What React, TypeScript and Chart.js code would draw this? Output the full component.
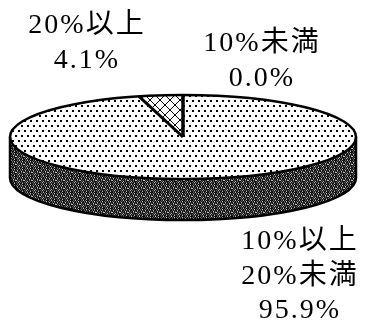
import React, { useEffect, useRef } from "react";
import { Chart, registerables } from "chart.js";

Chart.register(...registerables);

const categories = ["10%未満", "10%以上20%未満", "20%以上"];
const values = [0.0, 95.9, 4.1];
const labelLines = [["10%未満"], ["10%以上", "20%未満"], ["20%以上"]];

function makeTile(w: number, h: number, draw: (c: CanvasRenderingContext2D) => void) {
  const c = document.createElement("canvas");
  c.width = w;
  c.height = h;
  const g = c.getContext("2d")!;
  draw(g);
  return c;
}

function makePatterns() {
  const pc = document.createElement("canvas").getContext("2d")!;
  const dots = makeTile(6, 10, (g) => {
    g.fillStyle = "#fff";
    g.fillRect(0, 0, 6, 10);
    g.fillStyle = "#000";
    g.fillRect(0, 0, 2, 2);
    g.fillRect(3, 5, 2, 2);
  });
  const hatch = makeTile(10, 10, (g) => {
    g.fillStyle = "#fff";
    g.fillRect(0, 0, 10, 10);
    g.fillStyle = "#000";
    for (let i = 0; i < 10; i++) {
      g.fillRect(i, i, 1, 1);
      g.fillRect(i, 9 - i, 1, 1);
    }
  });
  const rows = [
    "#+#.#+##",
    "+#+#+#.#",
    "#.##+#+#",
    "#+#+#.#+",
    ".#+##+#.",
    "#+#.#+##",
    "+#.#+#+#",
    "#+#+##.#",
  ];
  const dark = makeTile(8, 8, (g) => {
    for (let r = 0; r < 8; r++)
      for (let k = 0; k < 8; k++) {
        const ch = rows[r][k];
        g.fillStyle = ch === "#" ? "#0c0c0c" : ch === "+" ? "#5e5e5e" : "#c4c4c4";
        g.fillRect(k, r, 1, 1);
      }
  });
  return {
    top: [pc.createPattern(dots, "repeat")!, pc.createPattern(dots, "repeat")!, pc.createPattern(hatch, "repeat")!],
    side: [pc.createPattern(dark, "repeat")!, pc.createPattern(dark, "repeat")!, pc.createPattern(dark, "repeat")!],
  };
}

// ellipse geometry of the 3D view
const VIEW = { cx: 183, cy: 137, rx: 173, ry: 42, depth: 41 };
const LABEL_POS = [
  { x: 261, y: 44 },
  { x: 299, y: 242 },
  { x: 86, y: 26 },
];
const LINE_H = 34.5;

export default function App() {
  const ref = useRef<HTMLCanvasElement>(null);
  useEffect(() => {
    const pats = makePatterns();
    const pie3d = {
      id: "pie3d",
      beforeDatasetsDraw(chart: any) {
        const ctx = chart.ctx as CanvasRenderingContext2D;
        const meta = chart.getDatasetMeta(0);
        const { cx, cy, rx, ry, depth } = VIEW;
        ctx.save();
        meta.data.forEach((arc: any, i: number) => {
          const lo = Math.max(arc.startAngle, 0);
          const hi = Math.min(arc.endAngle, Math.PI);
          if (hi <= lo) return;
          ctx.beginPath();
          ctx.ellipse(cx, cy, rx, ry, 0, lo, hi);
          ctx.ellipse(cx, cy + depth, rx, ry, 0, hi, lo, true);
          ctx.closePath();
          ctx.fillStyle = pats.side[i];
          ctx.fill();
        });
        ctx.restore();
        const a0 = meta.data[0];
        const R = a0.outerRadius;
        const sx = rx / R;
        const sy = ry / R;
        const m = new DOMMatrix().translate(cx, cy).scale(sx, sy).translate(-a0.x, -a0.y);
        const inv = m.inverse();
        pats.top.forEach((p) => p.setTransform(inv));
        ctx.save();
        ctx.setTransform(m);
      },
      afterDatasetsDraw(chart: any) {
        const ctx = chart.ctx as CanvasRenderingContext2D;
        ctx.restore();
        const meta = chart.getDatasetMeta(0);
        const { cx, cy, rx, ry, depth } = VIEW;
        ctx.save();
        ctx.strokeStyle = "#000";
        ctx.lineWidth = 2.5;
        ctx.lineJoin = "round";
        // side outline
        ctx.beginPath();
        ctx.moveTo(cx - rx, cy);
        ctx.lineTo(cx - rx, cy + depth);
        ctx.ellipse(cx, cy + depth, rx, ry, 0, Math.PI, 0, true);
        ctx.lineTo(cx + rx, cy);
        ctx.stroke();
        // top outline
        ctx.beginPath();
        ctx.ellipse(cx, cy, rx, ry, 0, 0, Math.PI * 2);
        ctx.stroke();
        // radial edges
        ctx.lineWidth = 3;
        meta.data.forEach((arc: any) => {
          const a = arc.startAngle;
          ctx.beginPath();
          ctx.moveTo(cx, cy);
          ctx.lineTo(cx + rx * Math.cos(a), cy + ry * Math.sin(a));
          ctx.stroke();
        });
        // labels
        ctx.fillStyle = "#000";
        ctx.font = "28px 'Liberation Serif', 'Noto Sans CJK JP', serif";
        (ctx as any).letterSpacing = "2px";
        ctx.textAlign = "center";
        ctx.textBaseline = "middle";
        labelLines.forEach((lines, i) => {
          const all = [...lines, values[i].toFixed(1) + "%"];
          all.forEach((t, j) => {
            ctx.fillText(t, LABEL_POS[i].x + 1, LABEL_POS[i].y + j * LINE_H);
          });
        });
        ctx.restore();
      },
    };
    const chart = new Chart(ref.current!, {
      type: "pie",
      data: {
        labels: categories,
        datasets: [
          {
            data: values,
            backgroundColor: pats.top,
            borderWidth: 0,
          },
        ],
      },
      options: {
        responsive: false,
        animation: false,
        plugins: { legend: { display: false }, tooltip: { enabled: false } },
      },
      plugins: [pie3d],
    });
    return () => chart.destroy();
  }, []);
  return (
    <div style={{ position: "fixed", left: 0, top: 0, width: 366, height: 321, background: "#fff" }}>
      <canvas ref={ref} width={366} height={321} style={{ display: "block" }} />
    </div>
  );
}
